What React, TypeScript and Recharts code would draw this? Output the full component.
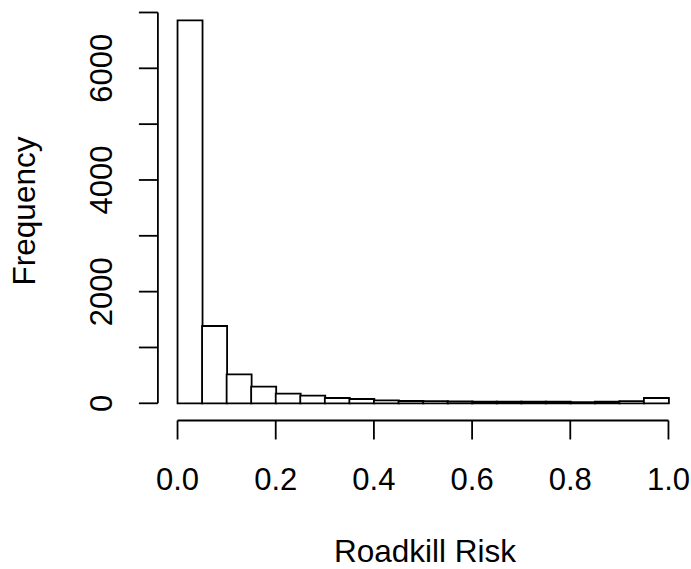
import React from 'react';
import { ComposedChart, Bar, XAxis, YAxis, ReferenceLine, Label } from 'recharts';

const binStarts = [0, 0.05, 0.1, 0.15, 0.2, 0.25, 0.3, 0.35, 0.4, 0.45, 0.5, 0.55, 0.6, 0.65, 0.7, 0.75, 0.8, 0.85, 0.9, 0.95];
const counts = [6860, 1385, 519, 297, 175, 136, 95, 77, 54, 41, 40, 36, 30, 30, 28, 30, 22, 30, 40, 95];
const binWidth = 0.05;
const xTicks = [0, 0.2, 0.4, 0.6, 0.8, 1];
const xTickLabels = ['0.0', '0.2', '0.4', '0.6', '0.8', '1.0'];
const yTicks = [0, 1000, 2000, 3000, 4000, 5000, 6000, 7000];
const yLabelTicks = [0, 2000, 4000, 6000];
const xTitle = 'Roadkill Risk';
const yTitle = 'Frequency';

const data = binStarts.map((s, i) => ({ mid: s + binWidth / 2, count: counts[i] }));

const FONT = '"Liberation Sans", Arial, Helvetica, sans-serif';
const FS = 31;
const TFS = 31.5;
const TICK = 19;
const SW = 1.8;

const XTick = (props: any) => {
  const { x, y, payload } = props;
  const idx = xTicks.indexOf(payload.value);
  return (
    <g>
      <line x1={x} x2={x} y1={y} y2={y + TICK} stroke="#000" strokeWidth={SW} />
      <text x={x} y={y + 69} textAnchor="middle" fontFamily={FONT} fontSize={FS} fill="#000">
        {idx >= 0 ? xTickLabels[idx] : String(payload.value)}
      </text>
    </g>
  );
};

const YTick = (props: any) => {
  const { x, y, payload } = props;
  const show = yLabelTicks.includes(payload.value);
  const tx = x - 46;
  return (
    <g>
      <line x1={x - TICK} x2={x} y1={y} y2={y} stroke="#000" strokeWidth={SW} />
      {show && (
        <text x={tx} y={y} transform={`rotate(-90 ${tx} ${y})`} textAnchor="middle" fontFamily={FONT} fontSize={FS} fill="#000">
          {String(payload.value)}
        </text>
      )}
    </g>
  );
};

export default function App() {
  const yDomain: [number, number] = [-308, 7134];
  const xDomain: [number, number] = [-0.04, 1.04];
  return (
    <div style={{ position: 'absolute', left: 0, top: 0, width: 691, height: 569, background: '#fff' }}>
      <ComposedChart
        width={691}
        height={569}
        data={data}
        margin={{ top: 5, right: 2.9, bottom: 0, left: 0 }}
        barCategoryGap={0}
        barGap={0}
      >
        <XAxis
          dataKey="mid"
          type="number"
          domain={xDomain}
          allowDataOverflow
          ticks={xTicks}
          interval={0}
          height={148.5}
          axisLine={false}
          tickLine={false}
          tickSize={0}
          tickMargin={0}
          tick={<XTick />}
        >
          <Label
            content={(p: any) => {
              const vb = p.viewBox;
              return (
                <text x={vb.x + vb.width / 2 + 2} y={vb.y + 141.5} textAnchor="middle" fontFamily={FONT} fontSize={TFS} fill="#000">
                  {xTitle}
                </text>
              );
            }}
          />
        </XAxis>
        <YAxis
          type="number"
          domain={yDomain}
          allowDataOverflow
          ticks={yTicks}
          interval={0}
          width={157.9}
          axisLine={false}
          tickLine={false}
          tickSize={0}
          tickMargin={0}
          tick={<YTick />}
        >
          <Label
            content={() => {
              const tx = 35;
              const ty = 211;
              return (
                <text x={tx} y={ty} transform={`rotate(-90 ${tx} ${ty})`} textAnchor="middle" fontFamily={FONT} fontSize={TFS} fill="#000">
                  {yTitle}
                </text>
              );
            }}
          />
        </YAxis>
        <Bar dataKey="count" fill="#fff" stroke="#000" strokeWidth={SW} isAnimationActive={false} />
        <ReferenceLine
          segment={[{ x: 0, y: yDomain[0] }, { x: 1, y: yDomain[0] }]}
          stroke="#000"
          strokeWidth={SW}
          ifOverflow="visible"
        />
        <ReferenceLine
          segment={[{ x: xDomain[0], y: 0 }, { x: xDomain[0], y: 7000 }]}
          stroke="#000"
          strokeWidth={SW}
          ifOverflow="visible"
        />
      </ComposedChart>
    </div>
  );
}
